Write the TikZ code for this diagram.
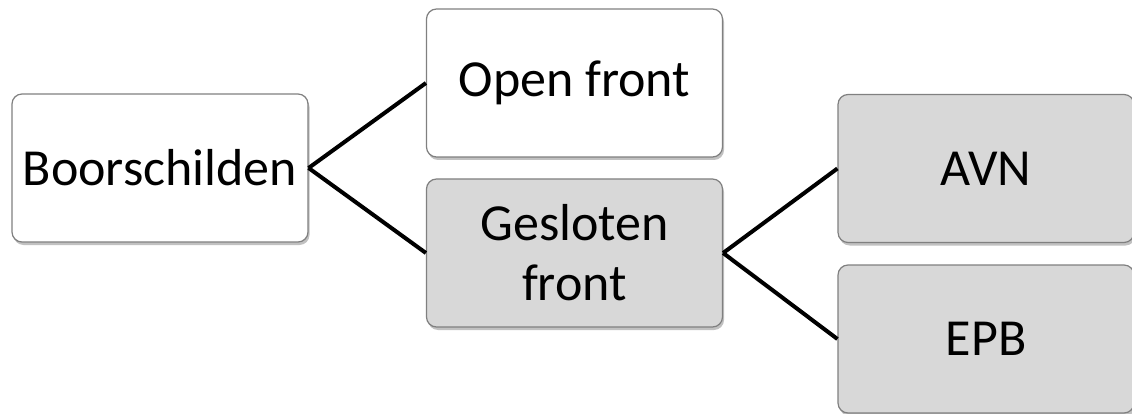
\documentclass[tikz,border=0pt]{standalone}
\usepackage{fontspec}
\setmainfont{Carlito}
\usetikzlibrary{shadows}
\definecolor{boxline}{RGB}{128,128,128}
\definecolor{boxgrey}{RGB}{216,216,216}
\tikzset{
  box/.style={draw=boxline, line width=1.2pt, rounded corners=10pt, minimum width=296pt, minimum height=148pt,
    align=center, font=\fontsize{52}{60}\selectfont, inner sep=0pt,
    drop shadow={shadow xshift=1.5pt, shadow yshift=-3pt, opacity=0.35, fill=black!70}},
  whitebox/.style={box, fill=white},
  greybox/.style={box, fill=boxgrey},
  link/.style={draw=black, line width=4pt}
}
\begin{document}
\begin{tikzpicture}[x=1pt,y=-1pt]
\useasboundingbox (0,0) rectangle (1132,414);
\node[whitebox] (B) at (160,168) {Boorschilden};
\node[whitebox] (O) at (574.5,83) {Open front};
\node[greybox] (G) at (574.5,253) {Gesloten\\front};
\node[greybox] (A) at (986,168.5) {AVN};
\node[greybox] (E) at (986,339) {EPB};
\draw[link] (B.east) -- (O.west);
\draw[link] (B.east) -- (G.west);
\draw[link] (G.east) -- (A.west);
\draw[link] (G.east) -- (E.west);
\end{tikzpicture}
\end{document}
